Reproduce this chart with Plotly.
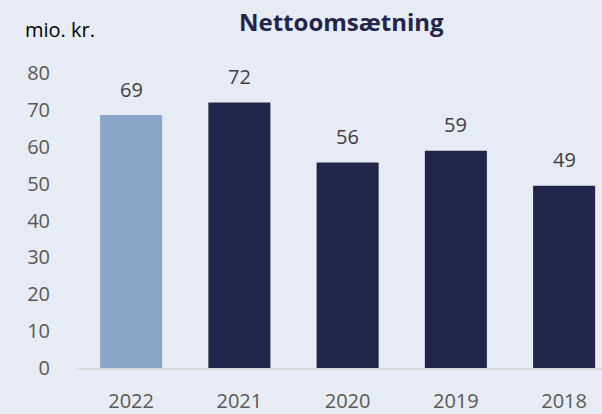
import plotly.graph_objects as go

years = ["2022", "2021", "2020", "2019", "2018"]
values = [68.6, 72.0, 55.7, 58.9, 49.4]
labels = ["69", "72", "56", "59", "49"]
bar_colors = ["#8BA5C9", "#23244A", "#23244A", "#23244A", "#23244A"]
y_ticks = [0, 10, 20, 30, 40, 50, 60, 70, 80]

BG = "#E7EBF3"
FONT = "Open Sans"

fig = go.Figure()
fig.add_trace(go.Bar(
    x=years, y=values, marker=dict(color=bar_colors, line=dict(width=0)),
    width=0.573, hoverinfo="skip",
))

for i, (v, t) in enumerate(zip(values, labels)):
    fig.add_annotation(x=i, y=v, xref="x", yref="y", text=t, showarrow=False,
                       yanchor="middle", yshift=26,
                       font=dict(family=FONT, size=20, color="#404040"))

fig.add_annotation(xref="paper", yref="paper", x=(341 - 77) / 525, y=1 + (73 - 21) / 299,
                   text="<b>Nettoomsætning</b>", showarrow=False, xanchor="center", yanchor="middle",
                   font=dict(family=FONT, size=24, color="#23244A"))
fig.add_annotation(xref="paper", yref="paper", x=(23 - 77) / 525, y=1 + (73 - 29) / 299,
                   text="mio. kr.", showarrow=False, xanchor="left", yanchor="middle",
                   font=dict(family=FONT, size=20, color="#000000"))

fig.update_layout(
    width=602, height=414,
    margin=dict(l=77, r=0, t=73, b=42, pad=0),
    paper_bgcolor=BG, plot_bgcolor=BG,
    showlegend=False,
    font=dict(family=FONT, size=20, color="#595959"),
)
fig.update_xaxes(
    type="category", range=[-0.5, 4.35], showgrid=False, zeroline=False,
    showline=True, linecolor="#D9D9D9", linewidth=1.5,
    ticks="", ticklabelstandoff=14, tickfont=dict(size=20, color="#595959"),
)
fig.update_yaxes(
    range=[0, 80], tickvals=y_ticks, showgrid=False, zeroline=False, showline=False,
    ticks="", ticklabelstandoff=26, tickfont=dict(size=20, color="#595959"),
)

fig.write_html("out.html", config={"displayModeBar": False},
               post_script="document.body.style.margin='0';document.body.style.background='%s';" % BG)
